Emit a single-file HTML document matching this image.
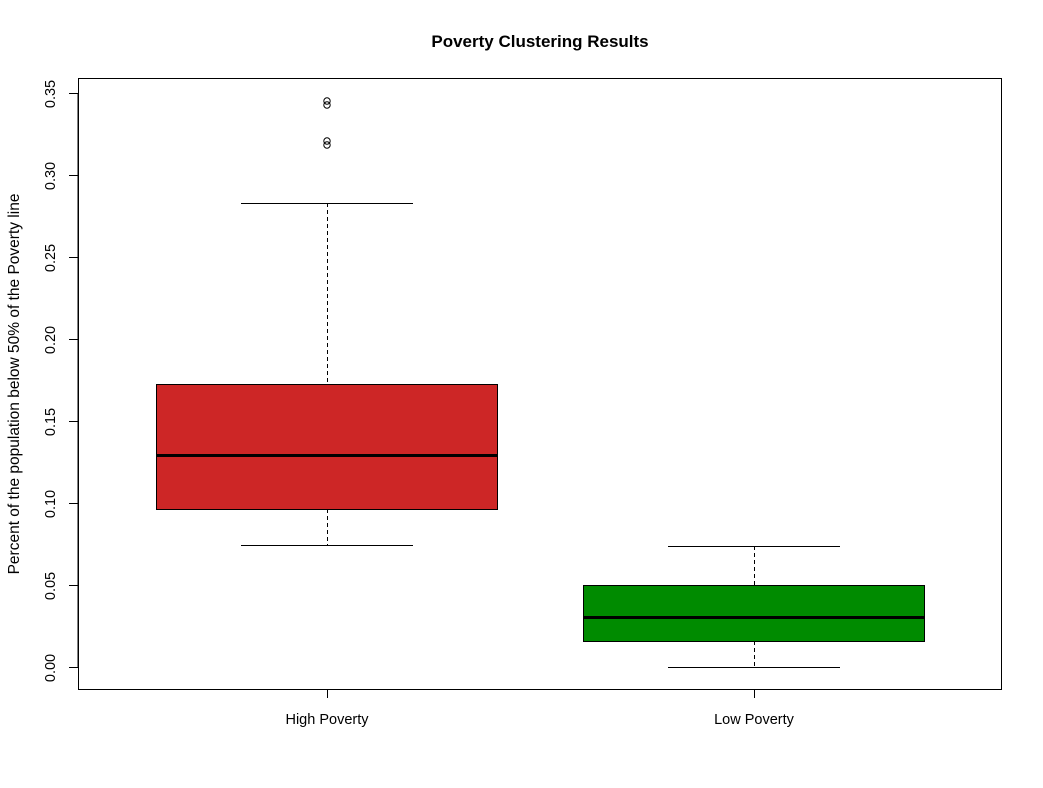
<!DOCTYPE html>
<html><head><meta charset="utf-8"><style>body{margin:0;background:#fff}svg{display:block}</style></head>
<body>
<svg width="1043" height="788" xmlns="http://www.w3.org/2000/svg" font-family="Liberation Sans, Arial, sans-serif">
<rect width="1043" height="788" fill="#fff"/>
<text x="540" y="47" text-anchor="middle" font-size="17" font-weight="bold">Poverty Clustering Results</text>
<rect x="78.5" y="78.5" width="923" height="611" fill="none" stroke="#000"/>
<g stroke="#000" stroke-width="1">
<line x1="78" y1="94" x2="78" y2="667"/>
<line x1="69" y1="93.5" x2="78" y2="93.5"/>
<line x1="69" y1="175.5" x2="78" y2="175.5"/>
<line x1="69" y1="257.5" x2="78" y2="257.5"/>
<line x1="69" y1="339.5" x2="78" y2="339.5"/>
<line x1="69" y1="421.5" x2="78" y2="421.5"/>
<line x1="69" y1="503.5" x2="78" y2="503.5"/>
<line x1="69" y1="585.5" x2="78" y2="585.5"/>
<line x1="69" y1="667.5" x2="78" y2="667.5"/>
<line x1="327.5" y1="689" x2="327.5" y2="698"/>
<line x1="754.5" y1="689" x2="754.5" y2="698"/>
</g>
<g font-size="14.5" text-anchor="middle">
<text transform="translate(55,94) rotate(-90)">0.35</text>
<text transform="translate(55,176) rotate(-90)">0.30</text>
<text transform="translate(55,258) rotate(-90)">0.25</text>
<text transform="translate(55,340) rotate(-90)">0.20</text>
<text transform="translate(55,422) rotate(-90)">0.15</text>
<text transform="translate(55,504) rotate(-90)">0.10</text>
<text transform="translate(55,586) rotate(-90)">0.05</text>
<text transform="translate(55,668) rotate(-90)">0.00</text>
<text transform="translate(19,384) rotate(-90)" font-size="15.5">Percent of the population below 50% of the Poverty line</text>
<text x="327" y="724">High Poverty</text>
<text x="754" y="724">Low Poverty</text>
</g>
<g stroke="#000" fill="none">
<line x1="327.5" y1="203" x2="327.5" y2="384" stroke-dasharray="4,3"/>
<line x1="327.5" y1="509" x2="327.5" y2="545" stroke-dasharray="4,3"/>
<line x1="241" y1="203.5" x2="413" y2="203.5"/>
<line x1="241" y1="545.5" x2="413" y2="545.5"/>
<rect x="156.5" y="384.5" width="341" height="125" fill="#CD2626"/>
<line x1="156" y1="455.5" x2="498" y2="455.5" stroke-width="3"/>
<circle cx="327" cy="101" r="3.2"/><circle cx="327" cy="105" r="3.2"/>
<circle cx="327" cy="141" r="3.2"/><circle cx="327" cy="145" r="3.2"/>
<line x1="754.5" y1="546" x2="754.5" y2="585" stroke-dasharray="4,3"/>
<line x1="754.5" y1="641" x2="754.5" y2="667" stroke-dasharray="4,3"/>
<line x1="668" y1="546.5" x2="840" y2="546.5"/>
<line x1="668" y1="667.5" x2="840" y2="667.5"/>
<rect x="583.5" y="585.5" width="341" height="56" fill="#008B00"/>
<line x1="583" y1="617.5" x2="925" y2="617.5" stroke-width="3"/>
</g>
</svg>
</body></html>
